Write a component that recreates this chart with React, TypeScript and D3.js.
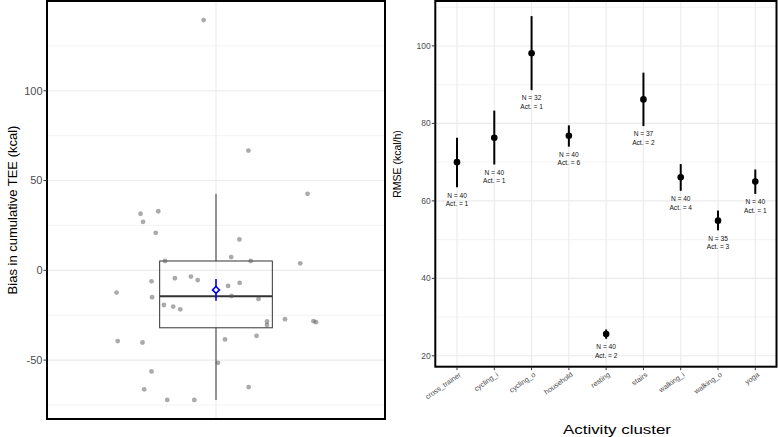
import React from "react";
import * as d3 from "d3";

// ---------- Left panel data ----------
const biasValues = [139.4, 66.7, 42.6, 31.5, 32.9, 27, 20.9, 17.2, 5.2, 7.4, 5.2, 3.9, -6.1, -4.4, -3.5, -5.4, -8.7, -7, -12.4, -15, -14.3, -15.9, -19.3, -20.2, -21.7, -28.5, -30.4, -27.2, -28.3, -28.9, -38.5, -36.5, -39.4, -40.2, -51.5, -56.3, -66.3, -65, -72.2, -72.2];
const biasJitter = [-0.044, 0.115, 0.325, -0.268, -0.205, -0.259, -0.214, 0.083, -0.181, 0.054, 0.123, 0.299, -0.229, -0.146, -0.089, -0.065, 0.043, 0.084, -0.353, -0.227, 0.055, 0.151, -0.185, -0.152, -0.127, 0.181, 0.181, 0.245, 0.346, 0.355, 0.032, 0.144, -0.349, -0.261, 0.007, -0.229, -0.255, 0.116, -0.173, -0.077];
const boxStats = { whiskerLow: -72.2, q1: -32, median: -14.4, q3: 5.2, whiskerHigh: 42.6 };
const meanStats = { mean: -10.9, low: -17, high: -4.8 };
const leftTicks = [-50, 0, 50, 100];
const leftMinor = [-75, -25, 25, 75, 125];

// ---------- Right panel data ----------
const clusters = ["cross_trainer", "cycling_i", "cycling_o", "household", "resting", "stairs", "walking_i", "walking_o", "yoga"];
const rmse = [70, 76.3, 98.1, 76.8, 25.6, 86.2, 66.1, 54.9, 65];
const rmseLow = [63.5, 69.4, 88.6, 74, 24.4, 79.3, 62.6, 52.4, 61.8];
const rmseHigh = [76.3, 83.3, 107.7, 79.5, 26.8, 93.1, 69.5, 57.5, 68.1];
const nCounts = [40, 40, 32, 40, 40, 37, 40, 35, 40];
const actCounts = [1, 1, 1, 6, 2, 2, 4, 3, 1];
const rightTicks = [20, 40, 60, 80, 100];
const rightMinor = [30, 50, 70, 90, 110];

const FONT = "'Liberation Sans', Arial, Helvetica, sans-serif";
const GRID = "#ebebeb";
const TICKC = "#4d4d4d";

export default function App() {
  // Left panel geometry
  const L = { x0: 47, x1: 385, y0: 1, y1: 419 };
  const xL = d3.scaleLinear().domain([0.4, 1.6]).range([L.x0, L.x1]);
  const yL = d3.scaleLinear().domain([-82.8, 150]).range([L.y1, L.y0]);
  const cx = xL(1);
  const bw = xL(1.2) - xL(1);

  // Right panel geometry
  const R = { x0: 435.3, x1: 776.5, y0: 1, y1: 366.7 };
  const xR = d3.scalePoint<string>().domain(clusters).range([457, 755.3]);
  const yR = d3.scaleLinear().domain([17.19, 111.6]).range([R.y1, R.y0]);

  const diamond = d3.symbol().type(d3.symbolDiamond2).size(30)();

  return (
    <svg width={778} height={437} style={{ position: "absolute", left: 0, top: 0, display: "block", fontFamily: FONT }}>
      <rect width={778} height={437} fill="#fff" />
      {/* ================= LEFT PANEL ================= */}
      <g>
        {leftMinor.map((v) => (
          <line key={"lm" + v} x1={L.x0} x2={L.x1} y1={yL(v)} y2={yL(v)} stroke={GRID} strokeWidth={0.6} />
        ))}
        {leftTicks.map((v) => (
          <line key={"lM" + v} x1={L.x0} x2={L.x1} y1={yL(v)} y2={yL(v)} stroke={GRID} strokeWidth={1.1} />
        ))}
        <line x1={cx} x2={cx} y1={L.y0} y2={L.y1} stroke={GRID} strokeWidth={1.1} />
        {/* whiskers */}
        <line x1={cx} x2={cx} y1={yL(boxStats.whiskerHigh)} y2={yL(boxStats.q3)} stroke="#333" strokeWidth={1} />
        <line x1={cx} x2={cx} y1={yL(boxStats.q1)} y2={yL(boxStats.whiskerLow)} stroke="#333" strokeWidth={1} />
        {/* box */}
        <rect x={cx - bw} y={yL(boxStats.q3)} width={2 * bw} height={yL(boxStats.q1) - yL(boxStats.q3)} fill="none" stroke="#333" strokeWidth={1} />
        <line x1={cx - bw} x2={cx + bw} y1={yL(boxStats.median)} y2={yL(boxStats.median)} stroke="#333" strokeWidth={2} />
        {/* points */}
        {biasValues.map((v, i) => (
          <circle key={"p" + i} cx={xL(1 + biasJitter[i])} cy={yL(v)} r={2.4} fill="#555" fillOpacity={0.5} />
        ))}
        {/* mean */}
        <line x1={cx} x2={cx} y1={yL(meanStats.high)} y2={yL(meanStats.low)} stroke="#0000ee" strokeWidth={1.6} />
        <path d={diamond || ""} transform={`translate(${cx},${yL(meanStats.mean)})`} fill="#fff" stroke="#0000ee" strokeWidth={1.6} />
        {/* border */}
        <rect x={L.x0} y={L.y0} width={L.x1 - L.x0} height={L.y1 - L.y0} fill="none" stroke="#000" strokeWidth={2} />
        {/* y axis */}
        {leftTicks.map((v) => (
          <g key={"lt" + v}>
            <line x1={L.x0 - 3.5} x2={L.x0} y1={yL(v)} y2={yL(v)} stroke="#333" strokeWidth={1} />
            <text x={L.x0 - 4.5} y={yL(v)} dy="0.35em" textAnchor="end" fontSize={11} fill={TICKC}>
              {v}
            </text>
          </g>
        ))}
        <text transform={`translate(12,${(L.y0 + L.y1) / 2}) rotate(-90)`} textAnchor="middle" dy="0.35em" fontSize={13} fill="#000">
          Bias in cumulative TEE (kcal)
        </text>
      </g>

      {/* ================= RIGHT PANEL ================= */}
      <g>
        {rightMinor.map((v) => (
          <line key={"rm" + v} x1={R.x0} x2={R.x1} y1={yR(v)} y2={yR(v)} stroke={GRID} strokeWidth={0.6} />
        ))}
        {rightTicks.map((v) => (
          <line key={"rM" + v} x1={R.x0} x2={R.x1} y1={yR(v)} y2={yR(v)} stroke={GRID} strokeWidth={1.1} />
        ))}
        {clusters.map((c) => (
          <line key={"rv" + c} x1={xR(c)} x2={xR(c)} y1={R.y0} y2={R.y1} stroke={GRID} strokeWidth={1.1} />
        ))}
        {clusters.map((c, i) => (
          <g key={"e" + c}>
            <line x1={xR(c)} x2={xR(c)} y1={yR(rmseHigh[i])} y2={yR(rmseLow[i])} stroke="#000" strokeWidth={2} />
            <circle cx={xR(c)} cy={yR(rmse[i])} r={3.3} fill="#000" />
            <text x={xR(c)} y={yR(rmseLow[i]) + 8} dy="0.35em" textAnchor="middle" fontSize={6.6} fill="#111">
              {`N = ${nCounts[i]}`}
            </text>
            <text x={xR(c)} y={yR(rmseLow[i]) + 16.5} dy="0.35em" textAnchor="middle" fontSize={6.6} fill="#111">
              {`Act. = ${actCounts[i]}`}
            </text>
          </g>
        ))}
        <rect x={R.x0} y={R.y0} width={R.x1 - R.x0} height={R.y1 - R.y0} fill="none" stroke="#000" strokeWidth={2} />
        {rightTicks.map((v) => (
          <g key={"rt" + v}>
            <line x1={R.x0 - 3.5} x2={R.x0} y1={yR(v)} y2={yR(v)} stroke="#333" strokeWidth={1} />
            <text x={R.x0 - 4.5} y={yR(v)} dy="0.35em" textAnchor="end" fontSize={8.5} fill={TICKC}>
              {v}
            </text>
          </g>
        ))}
        {clusters.map((c) => (
          <g key={"xt" + c}>
            <line x1={xR(c)} x2={xR(c)} y1={R.y1} y2={R.y1 + 3.5} stroke="#333" strokeWidth={1} />
            <text transform={`translate(${(xR(c) as number) + 3},${R.y1 + 7}) rotate(-35)`} textAnchor="end" dy="0.35em" fontSize={7.2} fill={TICKC}>
              {c}
            </text>
          </g>
        ))}
        <text transform={`translate(397,164) rotate(-90)`} textAnchor="middle" dy="0.35em" fontSize={10.5} fill="#000">
          RMSE (kcal/h)
        </text>
        <text x={617} y={434} textAnchor="middle" fontSize={12} textLength={108} lengthAdjust="spacingAndGlyphs" fill="#000">
          Activity cluster
        </text>
      </g>
    </svg>
  );
}
